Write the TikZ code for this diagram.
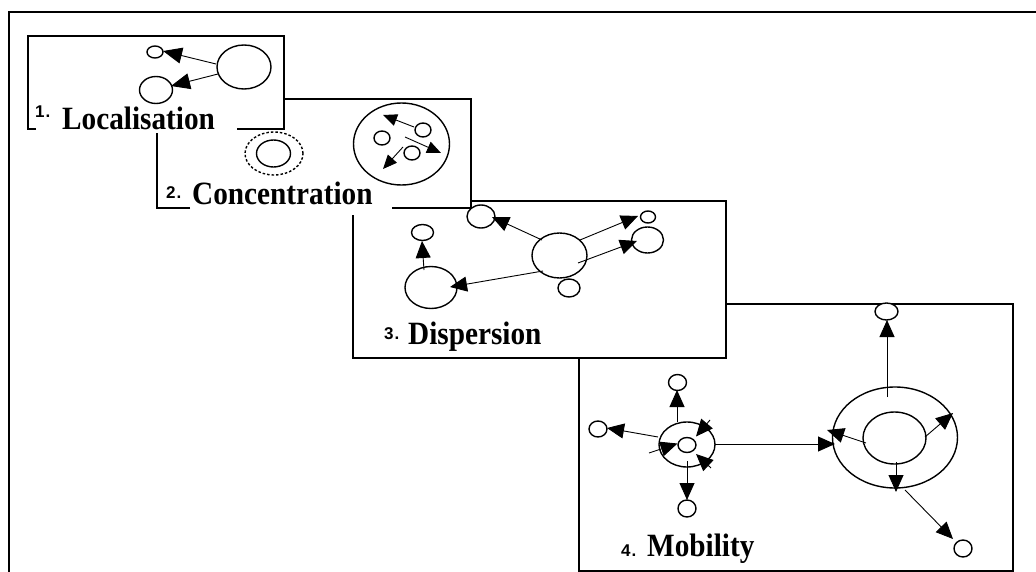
\documentclass[tikz,border=0pt]{standalone}
\usepackage{fontspec}
\setmainfont{Liberation Serif}
\setsansfont{Liberation Sans}
\newfontfamily\labfont{Liberation Serif}[FakeStretch=0.9]
\usetikzlibrary{arrows.meta,shapes.geometric}
\tikzset{
  frame/.style={line width=1.7pt},
  boxline/.style={line width=1.3pt},
  circ/.style={ellipse,draw,line width=1.4pt,inner sep=0pt,fill=white},
  arr/.style={line width=0.9pt,-{Triangle[length=17pt,width=15pt]}},
  bigarr/.style={line width=0.9pt,-{Triangle[length=19pt,width=16pt]}},
  smallarr/.style={line width=0.9pt,-{Triangle[length=14pt,width=12pt]}},
  lab/.style={font=\labfont\bfseries\fontsize{32.5}{32.5}\selectfont,anchor=base west,inner sep=0pt},
  num/.style={font=\sffamily\bfseries\fontsize{17}{17}\selectfont,anchor=base west,inner sep=0pt}
}
\begin{document}
\begin{tikzpicture}[x=1pt,y=-1pt]
\useasboundingbox (0,0) rectangle (1036,572);
% outer frame
\draw[frame] (9,572) -- (9,12) -- (1036,12);

% ================= Box 4 =================
\fill[white] (579,304) rectangle (1013,571);
\draw[boxline] (579,358) -- (579,571) -- (1013,571) -- (1013,304) -- (726,304);
% left ring
\node[circ,minimum width=56pt,minimum height=45pt] (r4o) at (687,444.5) {};
\node[circ,minimum width=18pt,minimum height=15pt] (r4i) at (687,445) {};
\node[circ,minimum width=18pt,minimum height=16pt] (c4t) at (677.5,382.5) {};
\node[circ,minimum width=18pt,minimum height=16pt] (c4l) at (598,429) {};
\node[circ,minimum width=18pt,minimum height=17pt] (c4b) at (687,508.5) {};
% big ring
\node[circ,minimum width=125pt,minimum height=101pt] (R4o) at (895,437.5) {};
\node[circ,minimum width=63pt,minimum height=52pt] (R4i) at (894.5,438) {};
\node[circ,minimum width=23pt,minimum height=17pt] (C4t) at (886.5,311.5) {};
\node[circ,minimum width=18pt,minimum height=17pt] (C4br) at (963,548.5) {};
% coordinates for arrows
\coordinate (a1s) at (677,422); \coordinate (a1e) at (677,390);
\coordinate (a2s) at (658,437); \coordinate (a2e) at (607,428);
\coordinate (a3s) at (687,461); \coordinate (a3e) at (687,500);
\coordinate (a4s) at (710,420); \coordinate (a4e) at (696,436.5);
\coordinate (a5s) at (649,453); \coordinate (a5e) at (677.5,443.5);
\coordinate (a6s) at (711,468); \coordinate (a6e) at (696,454);
\coordinate (a7s) at (715,444); \coordinate (a7e) at (835,444);
\coordinate (b1s) at (887,397); \coordinate (b1e) at (887,320);
\coordinate (b2s) at (866,443); \coordinate (b2e) at (827,430);
\coordinate (b3s) at (925,437); \coordinate (b3e) at (953,413);
\coordinate (b4s) at (896,462); \coordinate (b4e) at (896,492);
\coordinate (b5s) at (905,490); \coordinate (b5e) at (953,539);
\draw[arr] (a1s) -- (a1e);
\draw[arr] (a2s) -- (a2e);
\draw[arr] (a3s) -- (a3e);
\draw[arr] (a4s) -- (a4e);
\draw[arr] (a5s) -- (a5e);
\draw[arr] (a6s) -- (a6e);
\draw[arr] (a7s) -- (a7e);
\draw[arr] (b1s) -- (b1e);
\draw[arr] (b2s) -- (b2e);
\draw[arr] (b3s) -- (b3e);
\draw[arr] (b4s) -- (b4e);
\draw[arr] (b5s) -- (b5e);
\node[num] (n4) at (621,556) {4\kern1pt.};
\node[lab] (l4) at (647,556) {Mobility};

% ================= Box 3 =================
\fill[white] (353,201) rectangle (726,358);
\draw[boxline] (353,215) -- (353,358) -- (726,358) -- (726,201) -- (471,201);
\node[circ,minimum width=28pt,minimum height=23pt] (c3t) at (481,216.5) {};
\node[circ,minimum width=55pt,minimum height=45pt] (c3c) at (559.5,255.5) {};
\node[circ,minimum width=52pt,minimum height=42pt] (c3l) at (431,287.5) {};
\node[circ,minimum width=22pt,minimum height=16pt] (c3ls) at (422.5,232.5) {};
\node[circ,minimum width=22pt,minimum height=18pt] (c3b) at (569,288) {};
\node[circ,minimum width=15pt,minimum height=12pt] (c3tr) at (648,217) {};
\node[circ,minimum width=32pt,minimum height=26pt] (c3r) at (647.5,240) {};
\coordinate (d1s) at (542,240); \coordinate (d1e) at (492,217);
\coordinate (d2s) at (543,271); \coordinate (d2e) at (450,287);
\coordinate (d3s) at (424,270); \coordinate (d3e) at (422,241);
\coordinate (d4s) at (580,240); \coordinate (d4e) at (638,216);
\coordinate (d5s) at (578,263); \coordinate (d5e) at (637,241);
\draw[arr] (d1s) -- (d1e);
\draw[arr] (d2s) -- (d2e);
\draw[arr] (d3s) -- (d3e);
\draw[arr] (d4s) -- (d4e);
\draw[arr] (d5s) -- (d5e);
\node[num] (n3) at (384,339) {3\kern1pt.};
\node[lab] (l3) at (408,344) {Dispersion};

% ================= Box 2 =================
\fill[white] (157,99) rectangle (471,208);
\draw[boxline] (190,208) -- (157,208) -- (157,133);
\draw[boxline] (284,99) -- (471,99) -- (471,208) -- (392,208);
\node[circ,dashed,line width=1.4pt,dash pattern=on 2.5pt off 2pt,minimum width=58pt,minimum height=43pt] (c2d) at (274,153.5) {};
\node[circ,minimum width=34pt,minimum height=27pt] (c2s) at (273.5,153.5) {};
\node[circ,minimum width=96pt,minimum height=82pt] (c2big) at (401.5,144) {};
\fill[white] (437.5,175.5) circle (2.6pt);
\node[circ,minimum width=16pt,minimum height=14pt] (c2a) at (382,138) {};
\node[circ,minimum width=16pt,minimum height=14pt] (c2b) at (423,130) {};
\node[circ,minimum width=16pt,minimum height=14pt] (c2c) at (412,153) {};
\coordinate (e1s) at (414,127); \coordinate (e1e) at (383,115);
\coordinate (e2s) at (405,137); \coordinate (e2e) at (441,153);
\coordinate (e3s) at (403,147); \coordinate (e3e) at (383,169);
\draw[smallarr] (e1s) -- (e1e);
\draw[smallarr] (e2s) -- (e2e);
\draw[smallarr] (e3s) -- (e3e);
\node[num] (n2) at (166,199) {2\kern1pt.};
\node[lab] (l2) at (192,205) {Concentration};
\fill[white] (340,209) rectangle (366,215);

% ================= Box 1 =================
\fill[white] (28,36) rectangle (284,129);
\draw[boxline] (36,129) -- (28,129) -- (28,36) -- (284,36) -- (284,129) -- (237,129);
\node[circ,minimum width=16pt,minimum height=12pt] (c1s) at (155,52) {};
\node[circ,minimum width=33pt,minimum height=27pt] (c1m) at (156,90) {};
\node[circ,minimum width=54pt,minimum height=44pt] (c1b) at (244,67) {};
\coordinate (f1s) at (216,64); \coordinate (f1e) at (163,51);
\coordinate (f2s) at (218,74); \coordinate (f2e) at (171,86);
\draw[bigarr] (f1s) -- (f1e);
\draw[bigarr] (f2s) -- (f2e);
\node[num] (n1) at (35,118) {1\kern1pt.};
\node[lab] (l1) at (62,130) {Localisation};
\end{tikzpicture}
\end{document}
